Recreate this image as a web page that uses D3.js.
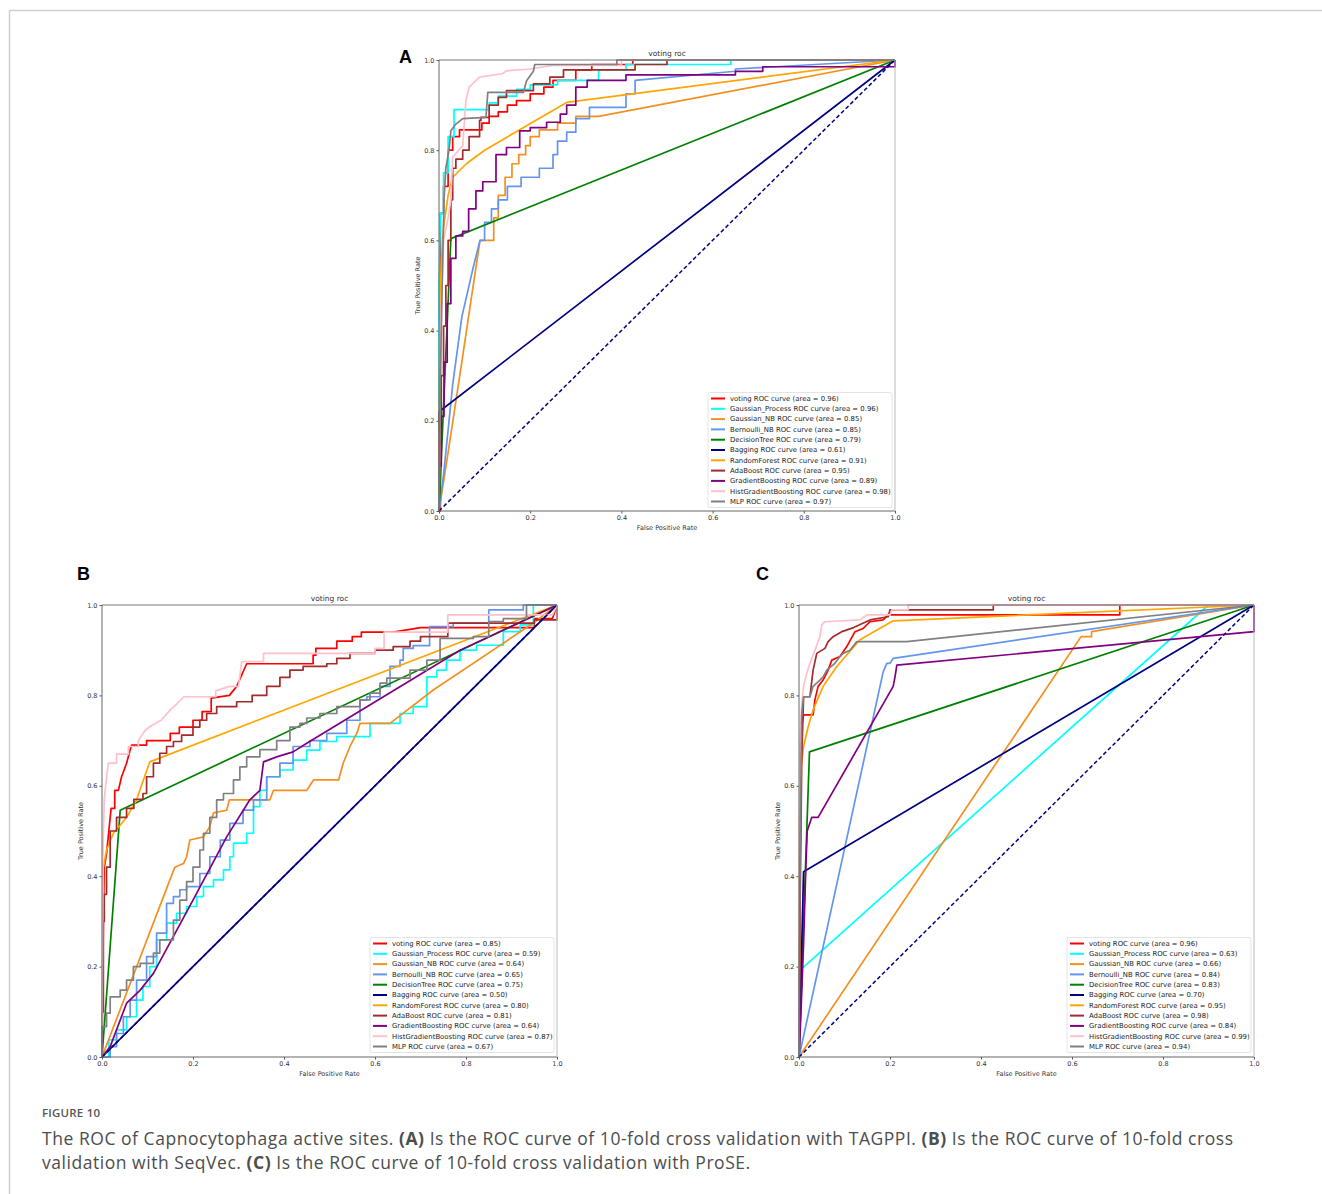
<!DOCTYPE html>
<html>
<head>
<meta charset="utf-8">
<script src="https://cdn.jsdelivr.net/npm/d3@7"></script>
<style>
body { margin: 0; background: #fff; }
svg { display: block; }
</style>
</head>
<body>
<svg id="fig" width="1322" height="1194"></svg>
<script>
// models in legend order, with their matplotlib colours
var models = ["voting", "Gaussian_Process", "Gaussian_NB", "Bernoulli_NB", "DecisionTree", "Bagging",
              "RandomForest", "AdaBoost", "GradientBoosting", "HistGradientBoosting", "MLP"];
var colors = ["#ff0000", "#00ffff", "#f39020", "#6495ed", "#008000", "#000080",
              "#ffa500", "#a52a2a", "#800080", "#ffc0cb", "#808080"];

var aucA = [0.96, 0.96, 0.85, 0.85, 0.79, 0.61, 0.91, 0.95, 0.89, 0.98, 0.97];
var aucB = [0.85, 0.59, 0.64, 0.65, 0.75, 0.50, 0.80, 0.81, 0.64, 0.87, 0.67];
var aucC = [0.96, 0.63, 0.66, 0.84, 0.83, 0.70, 0.95, 0.98, 0.84, 0.99, 0.94];

var ticks = [0, 0.2, 0.4, 0.6, 0.8, 1.0];

// ---- panel A (TAGPPI) roc points [fpr, tpr] ----
var A_voting = [[0,0],[0.003,0],[0.003,0.66],[0.01,0.66],[0.01,0.72],[0.02,0.72],[0.02,0.8],[0.03,0.8],[0.03,0.83],[0.045,0.83],[0.045,0.845],[0.094,0.845],[0.094,0.86],[0.11,0.86],[0.11,0.875],[0.13,0.875],[0.13,0.885],[0.15,0.885],[0.15,0.9],[0.17,0.9],[0.17,0.91],[0.2,0.91],[0.2,0.925],[0.23,0.925],[0.23,0.94],[0.25,0.94],[0.25,0.955],[0.3,0.955],[0.3,0.978],[0.335,0.978],[0.335,0.99],[0.425,0.99],[0.425,1],[1,1]];
var A_gp = [[0,0],[0,0.5],[0.003,0.66],[0.01,0.66],[0.01,0.75],[0.02,0.75],[0.02,0.83],[0.033,0.83],[0.033,0.89],[0.11,0.89],[0.11,0.905],[0.13,0.905],[0.13,0.92],[0.17,0.92],[0.17,0.935],[0.2,0.935],[0.2,0.945],[0.26,0.945],[0.26,0.955],[0.35,0.955],[0.35,0.978],[0.41,0.978],[0.41,0.99],[0.64,0.99],[0.64,1],[1,1]];
var A_gnb = [[0,0],[0.02,0.13],[0.05,0.33],[0.075,0.5],[0.09,0.6],[0.12,0.6],[0.12,0.65],[0.13,0.65],[0.13,0.7],[0.145,0.7],[0.145,0.74],[0.16,0.74],[0.16,0.77],[0.175,0.77],[0.175,0.79],[0.19,0.79],[0.19,0.81],[0.2,0.81],[0.2,0.83],[0.22,0.83],[0.22,0.845],[0.26,0.845],[0.26,0.86],[0.3,0.86],[0.3,0.875],[0.35,0.875],[1,1]];
var A_bnb = [[0,0],[0.01,0.08],[0.03,0.28],[0.05,0.43],[0.075,0.54],[0.09,0.6],[0.1,0.6],[0.1,0.64],[0.115,0.64],[0.115,0.67],[0.13,0.67],[0.13,0.69],[0.15,0.69],[0.15,0.72],[0.18,0.72],[0.18,0.74],[0.22,0.74],[0.22,0.76],[0.25,0.76],[0.25,0.79],[0.26,0.79],[0.26,0.82],[0.28,0.82],[0.28,0.84],[0.3,0.84],[0.3,0.87],[0.33,0.87],[0.33,0.895],[0.41,0.895],[0.41,0.925],[0.43,0.925],[0.43,0.955],[0.65,0.975],[0.65,0.98],[1,1]];
var A_dt = [[0,0],[0.026,0.604],[1,1]];
var A_bag = [[0,0],[0,0.22],[1,1]];
var A_rf = [[0,0],[0.002,0.45],[0.005,0.55],[0.01,0.63],[0.02,0.7],[0.03,0.74],[0.06,0.77],[0.1,0.8],[0.28,0.906],[1,1]];
var A_ada = [[0,0],[0.005,0.15],[0.01,0.3],[0.015,0.41],[0.02,0.5],[0.026,0.6],[0.03,0.69],[0.037,0.76],[0.052,0.78],[0.066,0.8],[0.089,0.83],[0.092,0.866],[0.11,0.873],[0.13,0.9],[0.148,0.917],[0.207,0.932],[0.243,0.947],[0.273,0.962],[0.317,0.978],[0.43,0.978],[0.43,0.99],[0.5,0.99],[0.5,1],[1,1]];
var A_gb = [[0,0],[0.005,0.1],[0.011,0.21],[0.018,0.33],[0.026,0.46],[0.037,0.56],[0.052,0.61],[0.065,0.62],[0.081,0.67],[0.096,0.71],[0.125,0.73],[0.148,0.79],[0.177,0.806],[0.2,0.843],[0.236,0.85],[0.266,0.862],[0.28,0.88],[0.3,0.9],[0.325,0.94],[0.354,0.955],[0.41,0.955],[0.41,0.967],[0.65,0.967],[0.65,0.975],[0.71,0.975],[0.71,0.985],[1,0.985],[1,1]];
var A_hgb = [[0,0],[0.003,0.4],[0.01,0.6],[0.02,0.65],[0.026,0.69],[0.03,0.785],[0.052,0.81],[0.059,0.91],[0.066,0.94],[0.089,0.962],[0.14,0.97],[0.148,0.976],[0.2,0.98],[0.25,0.988],[0.4,0.988],[0.4,1],[1,1]];
var A_mlp = [[0,0],[0.003,0.3],[0.007,0.5],[0.011,0.69],[0.015,0.76],[0.022,0.8],[0.026,0.843],[0.037,0.858],[0.052,0.87],[0.103,0.873],[0.107,0.928],[0.185,0.928],[0.192,0.954],[0.207,0.975],[0.21,0.99],[0.39,0.99],[0.39,1],[1,1]];

// ---- panel B (SeqVec) ----
var B_voting = [[0,0],[0.003,0.3],[0.005,0.42],[0.01,0.45],[0.015,0.5],[0.02,0.55],[0.028,0.55],[0.028,0.59],[0.036,0.59],[0.043,0.62],[0.054,0.65],[0.062,0.68],[0.065,0.69],[0.098,0.69],[0.098,0.7],[0.15,0.7],[0.15,0.716],[0.17,0.716],[0.17,0.73],[0.2,0.73],[0.2,0.745],[0.22,0.745],[0.22,0.764],[0.24,0.764],[0.24,0.794],[0.28,0.8],[0.296,0.82],[0.318,0.87],[0.464,0.87],[0.464,0.889],[0.47,0.889],[0.47,0.904],[0.516,0.904],[0.516,0.92],[0.55,0.92],[0.55,0.93],[0.57,0.93],[0.57,0.94],[0.64,0.94],[0.7,0.95],[0.95,0.95],[0.95,0.97],[0.99,0.97],[1,1]];
var B_gp = [[0,0],[0.015,0],[0.032,0.038],[0.054,0.06],[0.076,0.089],[0.09,0.126],[0.105,0.156],[0.12,0.2],[0.142,0.259],[0.164,0.296],[0.186,0.318],[0.208,0.333],[0.223,0.355],[0.245,0.377],[0.267,0.392],[0.281,0.414],[0.289,0.443],[0.318,0.473],[0.333,0.495],[0.347,0.554],[0.362,0.59],[0.391,0.62],[0.42,0.635],[0.45,0.657],[0.479,0.679],[0.516,0.698],[0.589,0.709],[0.655,0.738],[0.684,0.76],[0.714,0.775],[0.736,0.841],[0.757,0.856],[0.787,0.878],[0.823,0.9],[0.882,0.911],[0.919,0.941],[0.948,0.956],[1,1]];
var B_gnb = [[0,0],[0.16,0.42],[0.179,0.428],[0.186,0.443],[0.193,0.48],[0.223,0.487],[0.237,0.51],[0.245,0.54],[0.274,0.546],[0.28,0.569],[0.369,0.569],[0.377,0.59],[0.45,0.59],[0.465,0.613],[0.52,0.613],[0.53,0.65],[0.545,0.687],[0.56,0.716],[0.567,0.738],[0.633,0.738],[0.728,0.812],[0.948,0.96],[1,1]];
var B_bnb = [[0,0],[0.018,0],[0.032,0.023],[0.047,0.052],[0.062,0.089],[0.076,0.126],[0.098,0.17],[0.12,0.222],[0.142,0.274],[0.157,0.34],[0.171,0.355],[0.186,0.37],[0.215,0.377],[0.237,0.406],[0.26,0.443],[0.281,0.48],[0.31,0.517],[0.333,0.546],[0.362,0.569],[0.391,0.62],[0.42,0.65],[0.457,0.687],[0.494,0.7],[0.538,0.716],[0.567,0.745],[0.582,0.79],[0.611,0.797],[0.633,0.82],[0.655,0.864],[0.662,0.878],[0.684,0.904],[0.72,0.91],[0.772,0.952],[0.85,0.96],[0.904,0.989],[0.926,0.989],[0.926,1],[1,1]];
var B_dt = [[0,0],[0.04,0.546],[1,1]];
var B_bag = [[0,0],[1,1]];
var B_rf = [[0,0],[0.003,0.42],[0.01,0.458],[0.025,0.495],[0.054,0.53],[0.076,0.569],[0.105,0.653],[1,1]];
var B_ada = [[0,0],[0.003,0.1],[0.005,0.3],[0.01,0.36],[0.018,0.42],[0.025,0.5],[0.032,0.5],[0.054,0.53],[0.07,0.55],[0.09,0.57],[0.098,0.583],[0.113,0.62],[0.127,0.65],[0.142,0.672],[0.157,0.687],[0.175,0.698],[0.2,0.712],[0.215,0.73],[0.23,0.745],[0.252,0.76],[0.296,0.775],[0.33,0.786],[0.362,0.8],[0.391,0.82],[0.413,0.84],[0.442,0.856],[0.494,0.864],[0.516,0.87],[0.545,0.882],[0.6,0.893],[0.64,0.9],[0.677,0.908],[0.7,0.92],[0.72,0.93],[0.76,0.93],[0.95,0.96],[0.977,0.967],[1,0.967],[1,1]];
var B_gb = [[0,0],[0.018,0.023],[0.054,0.119],[0.084,0.148],[0.113,0.185],[0.2,0.347],[0.274,0.487],[0.325,0.569],[0.347,0.59],[0.355,0.653],[0.384,0.664],[0.42,0.675],[0.45,0.694],[0.787,0.9],[1,1]];
var B_hgb = [[0,0],[0.002,0.45],[0.005,0.57],[0.01,0.62],[0.014,0.65],[0.032,0.65],[0.032,0.67],[0.058,0.67],[0.058,0.687],[0.08,0.687],[0.08,0.7],[0.095,0.723],[0.11,0.734],[0.13,0.745],[0.15,0.768],[0.165,0.782],[0.18,0.797],[0.25,0.797],[0.25,0.81],[0.28,0.82],[0.3,0.82],[0.307,0.875],[0.355,0.875],[0.355,0.893],[0.6,0.893],[0.6,0.904],[0.62,0.904],[0.62,0.94],[0.76,0.94],[0.76,0.978],[0.99,0.978],[1,1]];
var B_mlp = [[0,0],[0.01,0.067],[0.018,0.097],[0.04,0.133],[0.054,0.148],[0.069,0.17],[0.084,0.2],[0.113,0.207],[0.127,0.23],[0.157,0.259],[0.171,0.303],[0.186,0.347],[0.2,0.388],[0.215,0.42],[0.223,0.458],[0.237,0.495],[0.252,0.53],[0.267,0.569],[0.289,0.583],[0.303,0.613],[0.318,0.642],[0.347,0.664],[0.384,0.68],[0.413,0.7],[0.435,0.73],[0.45,0.738],[0.479,0.75],[0.516,0.76],[0.567,0.775],[0.589,0.79],[0.611,0.805],[0.626,0.827],[0.677,0.838],[0.714,0.856],[0.743,0.878],[0.816,0.926],[0.85,0.93],[0.882,0.963],[0.933,0.97],[1,1]];

// ---- panel C (ProSE) ----
var C_voting = [[0,0],[0.002,0.2],[0.003,0.58],[0.006,0.73],[0.01,0.757],[0.031,0.757],[0.035,0.79],[0.042,0.82],[0.053,0.834],[0.064,0.856],[0.072,0.878],[0.09,0.886],[0.105,0.908],[0.123,0.941],[0.141,0.948],[0.156,0.963],[0.185,0.967],[0.196,0.978],[0.705,0.978],[0.705,1],[1,1]];
var C_gp = [[0,0],[0,0.19],[0.9,1],[1,1]];
var C_gnb = [[0,0],[0.62,0.93],[0.643,0.93],[0.643,0.941],[1,1]];
var C_bnb = [[0,0],[0.185,0.852],[0.193,0.871],[0.2,0.871],[0.207,0.882],[1,1]];
var C_dt = [[0,0],[0.023,0.675],[1,1]];
var C_bag = [[0,0],[0.01,0.41],[1,1]];
var C_rf = [[0,0],[0.002,0.62],[0.01,0.687],[0.02,0.73],[0.031,0.768],[0.053,0.82],[0.083,0.864],[0.134,0.923],[0.207,0.965],[1,1]];
var C_ada = [[0,0],[0.002,0.3],[0.006,0.657],[0.01,0.797],[0.024,0.797],[0.031,0.856],[0.039,0.893],[0.057,0.904],[0.064,0.919],[0.075,0.93],[0.094,0.941],[0.12,0.95],[0.156,0.967],[0.196,0.974],[0.2,0.989],[0.427,0.989],[0.427,1],[1,1]];
var C_gb = [[0,0],[0.004,0.09],[0.01,0.25],[0.015,0.42],[0.018,0.5],[0.028,0.53],[0.042,0.53],[0.207,0.82],[0.211,0.841],[0.215,0.867],[1,0.941],[1,1]];
var C_hgb = [[0,0],[0.001,0.5],[0.002,0.687],[0.006,0.782],[0.01,0.82],[0.017,0.849],[0.024,0.871],[0.035,0.9],[0.046,0.93],[0.05,0.956],[0.057,0.963],[0.134,0.967],[0.149,0.978],[0.2,0.978],[0.204,0.989],[0.24,0.989],[0.24,1],[1,1]];
var C_mlp = [[0,0],[0.002,0.4],[0.006,0.76],[0.01,0.797],[0.024,0.797],[0.031,0.82],[0.046,0.834],[0.053,0.841],[0.061,0.856],[0.079,0.871],[0.09,0.886],[0.097,0.893],[0.112,0.9],[0.127,0.919],[0.237,0.919],[1,1]];

var curvesA = [A_voting, A_gp, A_gnb, A_bnb, A_dt, A_bag, A_rf, A_ada, A_gb, A_hgb, A_mlp];
var curvesB = [B_voting, B_gp, B_gnb, B_bnb, B_dt, B_bag, B_rf, B_ada, B_gb, B_hgb, B_mlp];
var curvesC = [C_voting, C_gp, C_gnb, C_bnb, C_dt, C_bag, C_rf, C_ada, C_gb, C_hgb, C_mlp];

// these ones are drawn as staircases (threshold steps)
var steppedCurves = [A_ada, A_gb, B_gp, B_bnb, B_mlp, B_ada];

var svg = d3.select("#fig");

// figure frame (light grey, top and left)
svg.append("line").attr("x1", 9.5).attr("y1", 10.5).attr("x2", 1322).attr("y2", 10.5)
    .attr("stroke", "#cfcfcf").attr("stroke-width", 1.5);
svg.append("line").attr("x1", 9.5).attr("y1", 10.5).attr("x2", 9.5).attr("y2", 1194)
    .attr("stroke", "#cfcfcf").attr("stroke-width", 1.5);

var panels = [
    {letter: "A", lx: 399, ly: 63, left: 439, right: 895, top: 60, bottom: 511, auc: aucA, curves: curvesA, legX: 708, legY: 392.5},
    {letter: "B", lx: 77, ly: 580, left: 102, right: 557, top: 605, bottom: 1057, auc: aucB, curves: curvesB, legX: 370, legY: 937.5},
    {letter: "C", lx: 756, ly: 580, left: 799, right: 1254, top: 605, bottom: 1057, auc: aucC, curves: curvesC, legX: 1067, legY: 937.5}
];

var chartFont = "'DejaVu Sans', sans-serif";

function drawPanel(p) {
    var g = svg.append("g");
    var x = d3.scaleLinear().domain([0, 1]).range([p.left, p.right]);
    var y = d3.scaleLinear().domain([0, 1]).range([p.bottom, p.top]);

    // axes
    var ax = g.append("g").attr("transform", "translate(0," + p.bottom + ")")
        .call(d3.axisBottom(x).tickValues(ticks).tickFormat(d3.format(".1f")).tickSize(2.5).tickPadding(2));
    var ay = g.append("g").attr("transform", "translate(" + p.left + ",0)")
        .call(d3.axisLeft(y).tickValues(ticks).tickFormat(d3.format(".1f")).tickSize(2.5).tickPadding(2));
    [ax, ay].forEach(function(a) {
        a.select(".domain").remove();
        a.selectAll("line").attr("stroke", "#555");
        a.selectAll("text").attr("font-family", chartFont).attr("font-size", 6.5).attr("fill", "#333");
    });

    // roc curves
    var line = d3.line().x(function(d) { return x(d[0]); }).y(function(d) { return y(d[1]); });
    var stairs = d3.line().x(function(d) { return x(d[0]); }).y(function(d) { return y(d[1]); })
        .curve(d3.curveStepBefore);
    p.curves.forEach(function(c, i) {
        var gen = steppedCurves.indexOf(c) >= 0 ? stairs : line;
        g.append("path").attr("d", gen(c)).attr("fill", "none")
            .attr("stroke", colors[i]).attr("stroke-width", 1.7).attr("stroke-linejoin", "round");
    });
    // chance diagonal
    g.append("path").attr("d", line([[0, 0], [1, 1]])).attr("fill", "none")
        .attr("stroke", "#000080").attr("stroke-width", 1.5).attr("stroke-dasharray", "4,2.5");

    // frame
    g.append("line").attr("x1", p.left).attr("x2", p.right).attr("y1", p.top).attr("y2", p.top).attr("stroke", "#777");
    g.append("line").attr("x1", p.left).attr("x2", p.left).attr("y1", p.top).attr("y2", p.bottom).attr("stroke", "#666");
    g.append("line").attr("x1", p.left).attr("x2", p.right).attr("y1", p.bottom).attr("y2", p.bottom).attr("stroke", "#666");
    g.append("line").attr("x1", p.right).attr("x2", p.right).attr("y1", p.top).attr("y2", p.bottom).attr("stroke", "#bbb");

    // titles
    var cx = (p.left + p.right) / 2;
    g.append("text").attr("x", cx).attr("y", p.top - 4).attr("text-anchor", "middle")
        .attr("font-family", chartFont).attr("font-size", 7.5).attr("fill", "#333").text("voting roc");
    g.append("text").attr("x", cx).attr("y", p.bottom + 19).attr("text-anchor", "middle")
        .attr("font-family", chartFont).attr("font-size", 6.5).attr("fill", "#333").text("False Positive Rate");
    g.append("text").attr("transform", "translate(" + (p.left - 19) + "," + ((p.top + p.bottom) / 2) + ") rotate(-90)")
        .attr("text-anchor", "middle").attr("font-family", chartFont).attr("font-size", 6.5).attr("fill", "#333")
        .text("True Positive Rate");

    // panel letter
    svg.append("text").attr("x", p.lx).attr("y", p.ly).attr("font-family", "'Liberation Sans', Arial, sans-serif")
        .attr("font-weight", "bold").attr("font-size", 18).attr("fill", "#000").text(p.letter);

    // legend
    var rowH = 10.3;
    var leg = g.append("g").attr("transform", "translate(" + p.legX + "," + p.legY + ")");
    leg.append("rect").attr("x", 0).attr("y", 0).attr("width", 184).attr("height", 115).attr("rx", 2)
        .attr("fill", "#fff").attr("stroke", "#ddd").attr("stroke-width", 0.8);
    models.forEach(function(m, i) {
        var ry = 6 + i * rowH;
        leg.append("line").attr("x1", 3).attr("x2", 17).attr("y1", ry).attr("y2", ry)
            .attr("stroke", colors[i]).attr("stroke-width", 2);
        leg.append("text").attr("x", 22).attr("y", ry + 2.3).attr("font-family", chartFont)
            .attr("font-size", 6.9).attr("fill", "#222")
            .text(m + " ROC curve (area = " + p.auc[i].toFixed(2) + ")");
    });
}

panels.forEach(drawPanel);

// caption
var capFont = "'Open Sans', 'Noto Sans', sans-serif";
svg.append("text").attr("x", 42).attr("y", 1117).attr("font-family", capFont).attr("font-size", 11.5)
    .attr("font-weight", 600).attr("fill", "#555").attr("letter-spacing", 0.2).text("FIGURE 10");

var capLines = [
    [["The ROC of Capnocytophaga active sites. ", false], ["(A)", true], [" Is the ROC curve of 10-fold cross validation with TAGPPI. ", false], ["(B)", true], [" Is the ROC curve of 10-fold cross", false]],
    [["validation with SeqVec. ", false], ["(C)", true], [" Is the ROC curve of 10-fold cross validation with ProSE.", false]]
];
var capTexts = capLines.map(function(parts, li) {
    var t = svg.append("text").attr("x", 42).attr("y", 1145 + li * 24).attr("font-family", capFont)
        .attr("font-size", 17.5).attr("fill", "#4d4d4d");
    parts.forEach(function(pt) {
        t.append("tspan").attr("font-weight", pt[1] ? 700 : 400).text(pt[0]);
    });
    return t;
});
// stretch the spacing so the first line spans the same width as in the figure
var first = capTexts[0].node();
var nChars = first.textContent.length;
var spacing = (1191 - first.getComputedTextLength()) / (nChars - 1);
capTexts.forEach(function(t) { t.attr("letter-spacing", spacing); });
</script>
</body>
</html>
